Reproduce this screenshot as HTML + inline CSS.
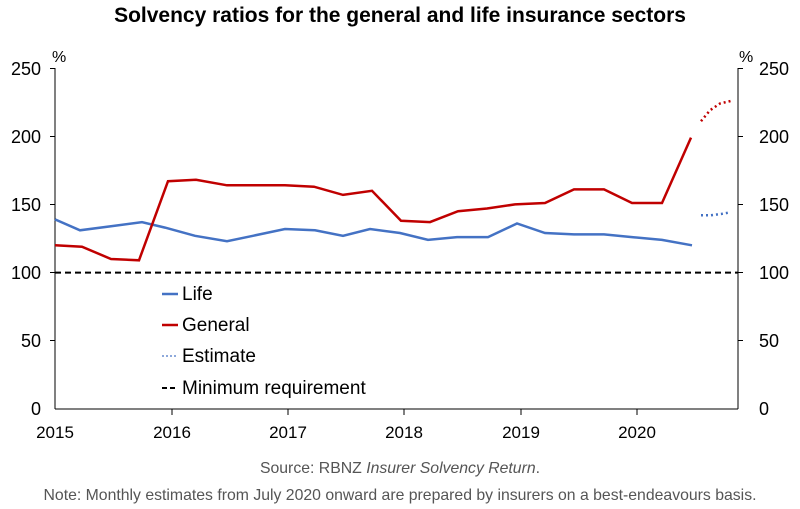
<!DOCTYPE html>
<html><head><style>
body{margin:0;background:#fff;}
svg{display:block;font-family:"Liberation Sans",Arial,sans-serif;}
</style></head><body>
<svg width="800" height="509" viewBox="0 0 800 509" xmlns="http://www.w3.org/2000/svg">
<rect width="800" height="509" fill="#fff"/>
<text x="400" y="22" text-anchor="middle" font-size="21" font-weight="bold" fill="#000">Solvency ratios for the general and life insurance sectors</text>
<line x1="55" y1="68" x2="55" y2="409" stroke="#000" stroke-width="1"/>
<line x1="738" y1="68" x2="738" y2="409" stroke="#000" stroke-width="1"/>
<line x1="55" y1="409" x2="738" y2="409" stroke="#000" stroke-width="1"/>
<g stroke="#000" stroke-width="1">
<line x1="50" y1="68.5" x2="55" y2="68.5"/><line x1="50" y1="136.5" x2="55" y2="136.5"/><line x1="50" y1="204.5" x2="55" y2="204.5"/><line x1="50" y1="272.5" x2="55" y2="272.5"/><line x1="50" y1="340.5" x2="55" y2="340.5"/>
<line x1="738" y1="68.5" x2="743" y2="68.5"/><line x1="738" y1="136.5" x2="743" y2="136.5"/><line x1="738" y1="204.5" x2="743" y2="204.5"/><line x1="738" y1="272.5" x2="743" y2="272.5"/><line x1="738" y1="340.5" x2="743" y2="340.5"/>
<line x1="172" y1="409" x2="172" y2="415"/><line x1="288" y1="409" x2="288" y2="415"/><line x1="404" y1="409" x2="404" y2="415"/><line x1="521" y1="409" x2="521" y2="415"/><line x1="637" y1="409" x2="637" y2="415"/>
</g>
<g font-size="18" fill="#000" text-anchor="end">
<text x="41" y="75">250</text><text x="41" y="143">200</text><text x="41" y="211">150</text><text x="41" y="279">100</text><text x="41" y="347">50</text><text x="41" y="415">0</text>
</g>
<g font-size="18" fill="#000" text-anchor="start">
<text x="759" y="75">250</text><text x="759" y="143">200</text><text x="759" y="211">150</text><text x="759" y="279">100</text><text x="759" y="347">50</text><text x="759" y="415">0</text>
</g>
<text x="52" y="62" font-size="16">%</text>
<text x="739" y="62" font-size="16">%</text>
<g font-size="17" fill="#000" text-anchor="middle">
<text x="55" y="438">2015</text><text x="172" y="438">2016</text><text x="288" y="438">2017</text><text x="404" y="438">2018</text><text x="521" y="438">2019</text><text x="637" y="438">2020</text>
</g>
<line x1="55" y1="272.6" x2="738" y2="272.6" stroke="#000" stroke-width="2" stroke-dasharray="6,4"/>
<polyline fill="none" stroke="#4472C4" stroke-width="2.5" points="55,219.4 80,230.3 111,226.2 142,222.1 165,227.6 195,235.8 227,241.2 253,235.8 285,229.0 315,230.3 343,235.8 370,229.0 400,233.0 428,239.9 457,237.1 488,237.1 517,223.5 545,233.0 574,234.4 604,234.4 632,237.1 662,239.9 692,245.3"/>
<polyline fill="none" stroke="#C00000" stroke-width="2.5" points="55,245.3 82,246.7 111,259.0 139,260.3 168,181.2 196,179.8 227,185.3 256,185.3 285,185.3 314,186.7 343,194.9 372,190.8 401,220.8 430,222.1 458,211.2 487,208.5 515,204.4 545,203.0 574,189.4 604,189.4 632,203.0 662,203.0 691,137.6"/>
<polyline fill="none" stroke="#C00000" stroke-width="2.5" stroke-dasharray="2,3" points="701,121.2 710,110.3 720,103.5 732,100.7"/>
<polyline fill="none" stroke="#4472C4" stroke-width="2.5" stroke-dasharray="2,3" points="701,215.3 711,215.3 721,214.0 729,212.6"/>
<line x1="162" y1="294" x2="178" y2="294" stroke="#4472C4" stroke-width="2.5"/>
<text x="182" y="300" font-size="19">Life</text>
<line x1="162" y1="325" x2="178" y2="325" stroke="#C00000" stroke-width="2.5"/>
<text x="182" y="331" font-size="19">General</text>
<line x1="162" y1="356" x2="178" y2="356" stroke="#8EA9DB" stroke-width="2" stroke-dasharray="2,2"/>
<text x="182" y="362" font-size="19">Estimate</text>
<line x1="162" y1="388" x2="178" y2="388" stroke="#000" stroke-width="2" stroke-dasharray="5,3"/>
<text x="182" y="394" font-size="19">Minimum requirement</text>
<text x="400" y="473" text-anchor="middle" font-size="15.8" fill="#555">Source: RBNZ <tspan font-style="italic">Insurer Solvency Return</tspan>.</text>
<text x="400" y="500" text-anchor="middle" font-size="15.8" fill="#555">Note: Monthly estimates from July 2020 onward are prepared by insurers on a best-endeavours basis.</text>
</svg>
</body></html>
